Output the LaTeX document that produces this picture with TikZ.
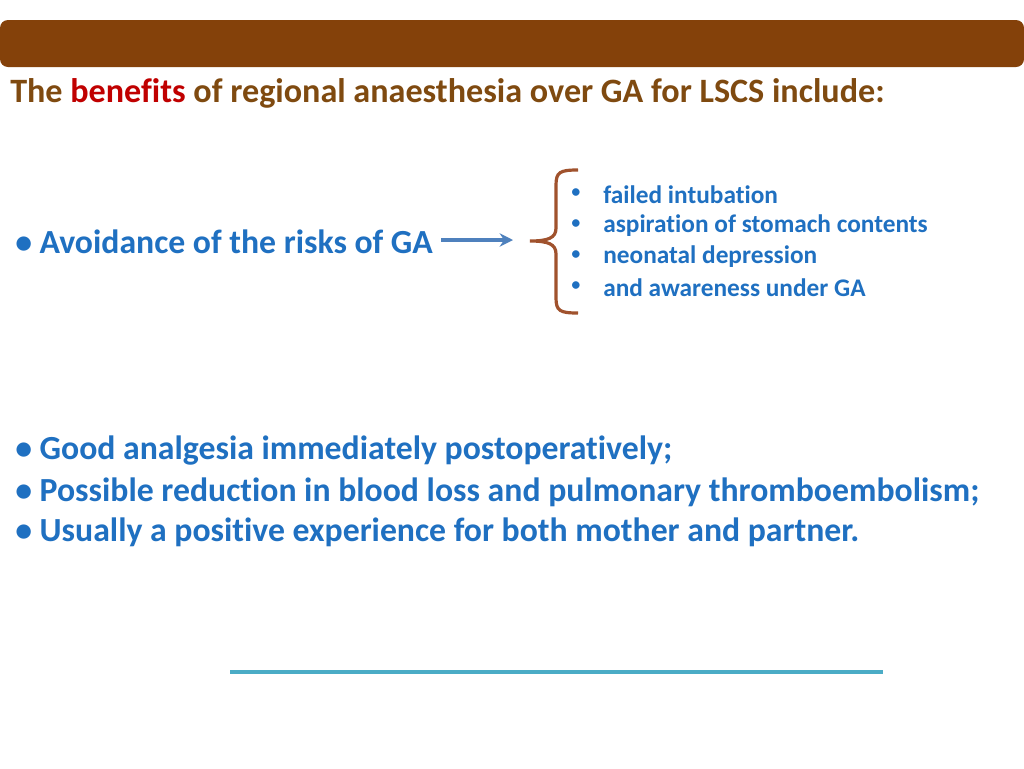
\documentclass[tikz,border=0pt]{standalone}
\usepackage{fontspec}
\setmainfont[Ligatures=NoCommon]{Carlito}
\usetikzlibrary{arrows.meta}
\definecolor{barbrown}{HTML}{84410A}
\definecolor{titlebrown}{HTML}{7F4A10}
\definecolor{benred}{HTML}{C00000}
\definecolor{txtblue}{HTML}{1F70C1}
\definecolor{arrblue}{HTML}{4F81BD}
\definecolor{bracebrown}{HTML}{A0522D}
\definecolor{linecyan}{HTML}{4BACC6}
\tikzset{
  big/.style={anchor=west,inner sep=0pt,font=\bfseries\fontsize{25.3}{30}\selectfont,text=txtblue},
  small/.style={anchor=west,inner sep=0pt,font=\bfseries\fontsize{19}{23}\selectfont,text=txtblue},
  sbul/.style={inner sep=0pt,font=\fontsize{16}{20}\selectfont,text=txtblue}
}
\begin{document}
\begin{tikzpicture}[x=0.75pt,y=-0.75pt]
\useasboundingbox[fill=white] (0,0) rectangle (1024,768);
\fill[barbrown,rounded corners=6pt] (0,20) rectangle (1024,67);
\node[anchor=west,inner sep=0pt,font=\bfseries\fontsize{25.6}{30}\selectfont,text=titlebrown] (title) at (10,93)
 {The \textcolor{benred}{benefits} of regional anaesthesia over GA for LSCS include:};
\node[big] (avoid) at (15,242) {• Avoidance of the risks of GA};
\coordinate (aend) at (513,240);
\draw[arrblue,line width=3pt,-{Stealth[length=10pt,width=10pt]}] ([xshift=6pt,yshift=1.5pt]avoid.east) -- (aend);
\draw[bracebrown,line width=2.4pt] (578,170) .. controls (560,170) and (556,172) .. (556,185)
  -- (556,228) .. controls (556,238) and (548,241) .. (530,241)
  .. controls (548,241) and (556,244) .. (556,254)
  -- (556,298) .. controls (556,311) and (560,313) .. (578,313);
\foreach \y/\t/\n in {195/failed intubation/a,226/aspiration of stomach contents/b,257/neonatal depression/c,288/and awareness under GA/d}{
  \node[sbul] (b\n) at (576,\y-1) {•};
  \node[small] (s\n) at (603,\y) {\t};
}
\node[big] (g1) at (15,451) {• Good analgesia immediately postoperatively;};
\node[big] (g2) at (15,492) {• Possible reduction in blood loss and pulmonary thromboembolism;};
\node[big] (g3) at (15,532) {• Usually a positive experience for both mother and partner.};
\draw[linecyan,line width=3pt] (230,672) -- (883,672);
\end{tikzpicture}
\end{document}
